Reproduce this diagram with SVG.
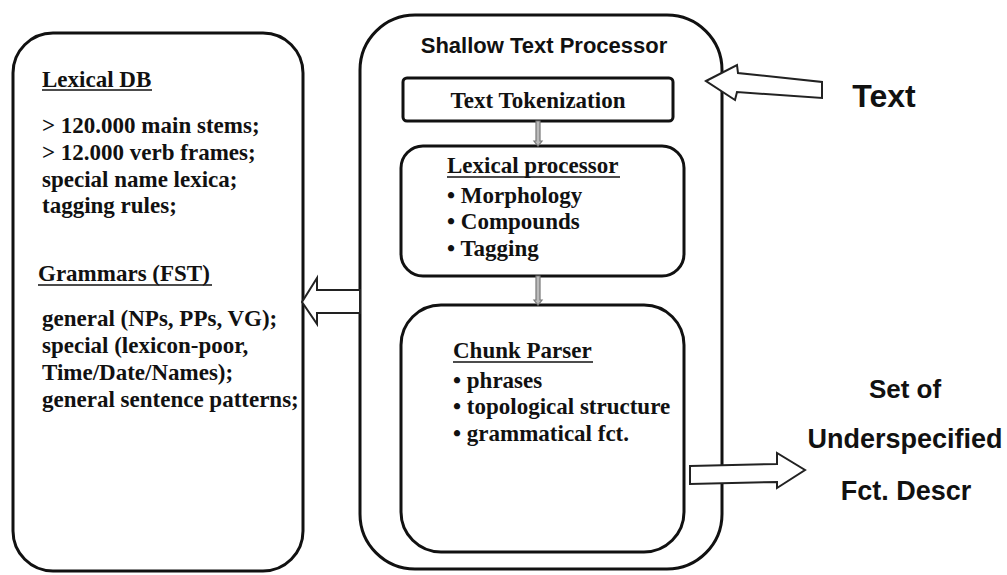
<svg xmlns="http://www.w3.org/2000/svg" width="1007" height="575" viewBox="0 0 1007 575">
<style>
.box{fill:#fff;stroke:#111;stroke-width:3}
.serif{font-family:"Liberation Serif","Times New Roman",serif;font-weight:bold;font-size:23px;fill:#111}
.sans{font-family:"Liberation Sans",Arial,sans-serif;font-weight:bold;fill:#111}
.ul{stroke:#111;stroke-width:1.5}
.hollow{fill:#fff;stroke:#222;stroke-width:2;stroke-linejoin:miter}
.small{fill:#bbb;stroke:#777;stroke-width:1.2}
</style>
<rect width="1007" height="575" fill="#fff"/>
<g id="lexical-db">
<rect class="box" x="13" y="33" width="290" height="538" rx="40"/>
<text class="serif" x="42" y="87">Lexical DB</text>
<line class="ul" x1="42" y1="90" x2="152" y2="90"/>
<text class="serif" x="42" y="133">&gt; 120.000 main stems;</text>
<text class="serif" x="42" y="160">&gt; 12.000 verb frames;</text>
<text class="serif" x="42" y="187">special name lexica;</text>
<text class="serif" x="42" y="213">tagging rules;</text>
<text class="serif" x="38" y="281">Grammars (FST)</text>
<line class="ul" x1="38" y1="285" x2="212" y2="285"/>
<text class="serif" x="42" y="326">general (NPs, PPs, VG);</text>
<text class="serif" x="42" y="353">special (lexicon-poor,</text>
<text class="serif" x="42" y="380">Time/Date/Names);</text>
<text class="serif" x="42" y="407">general sentence patterns;</text>
</g>
<g id="shallow-text-processor">
<rect class="box" x="360" y="15" width="362" height="554" rx="55"/>
<text class="sans" x="544" y="53" font-size="22" text-anchor="middle">Shallow Text Processor</text>
</g>
<g id="text-tokenization">
<rect class="box" x="403" y="78" width="270" height="43" rx="4"/>
<text class="serif" x="538" y="108" text-anchor="middle">Text Tokenization</text>
</g>
<g id="lexical-processor">
<rect class="box" x="401" y="146" width="283" height="130" rx="22"/>
<text class="serif" x="447" y="173">Lexical processor</text>
<line class="ul" x1="447" y1="177" x2="620" y2="177"/>
<text class="serif" x="447" y="203">• Morphology</text>
<text class="serif" x="447" y="229">• Compounds</text>
<text class="serif" x="447" y="256">• Tagging</text>
</g>
<g id="chunk-parser">
<rect class="box" x="401" y="305" width="283" height="247" rx="40"/>
<text class="serif" x="453" y="358">Chunk Parser</text>
<line class="ul" x1="453" y1="362" x2="593" y2="362"/>
<text class="serif" x="453" y="388">• phrases</text>
<text class="serif" x="453" y="414">• topological structure</text>
<text class="serif" x="453" y="441">• grammatical fct.</text>
</g>
<g id="text-input">
<text class="sans" x="884" y="107" font-size="32" text-anchor="middle">Text</text>
</g>
<g id="output">
<text class="sans" x="905" y="398" font-size="26" text-anchor="middle">Set of</text>
<text class="sans" x="905" y="448" font-size="27" text-anchor="middle">Underspecified</text>
<text class="sans" x="906" y="500" font-size="27" text-anchor="middle">Fct. Descr</text>
</g>
<g id="connectors">
<polygon class="hollow" points="706,81 737,65 738,73 822,82 822,98 737,92 735,100"/>
<polygon class="hollow" points="302,302 317,278 317,290 360,290 360,313 317,313 317,324"/>
<polygon class="hollow" points="690,466 777,464 777,453 805,470 777,488 777,482 690,484"/>
<polygon class="small" points="536,121 540,121 540,141 542,141 538,146 534,141 536,141"/>
<polygon class="small" points="536,276 540,276 540,300 542,300 538,305 534,300 536,300"/>
</g>
</svg>
